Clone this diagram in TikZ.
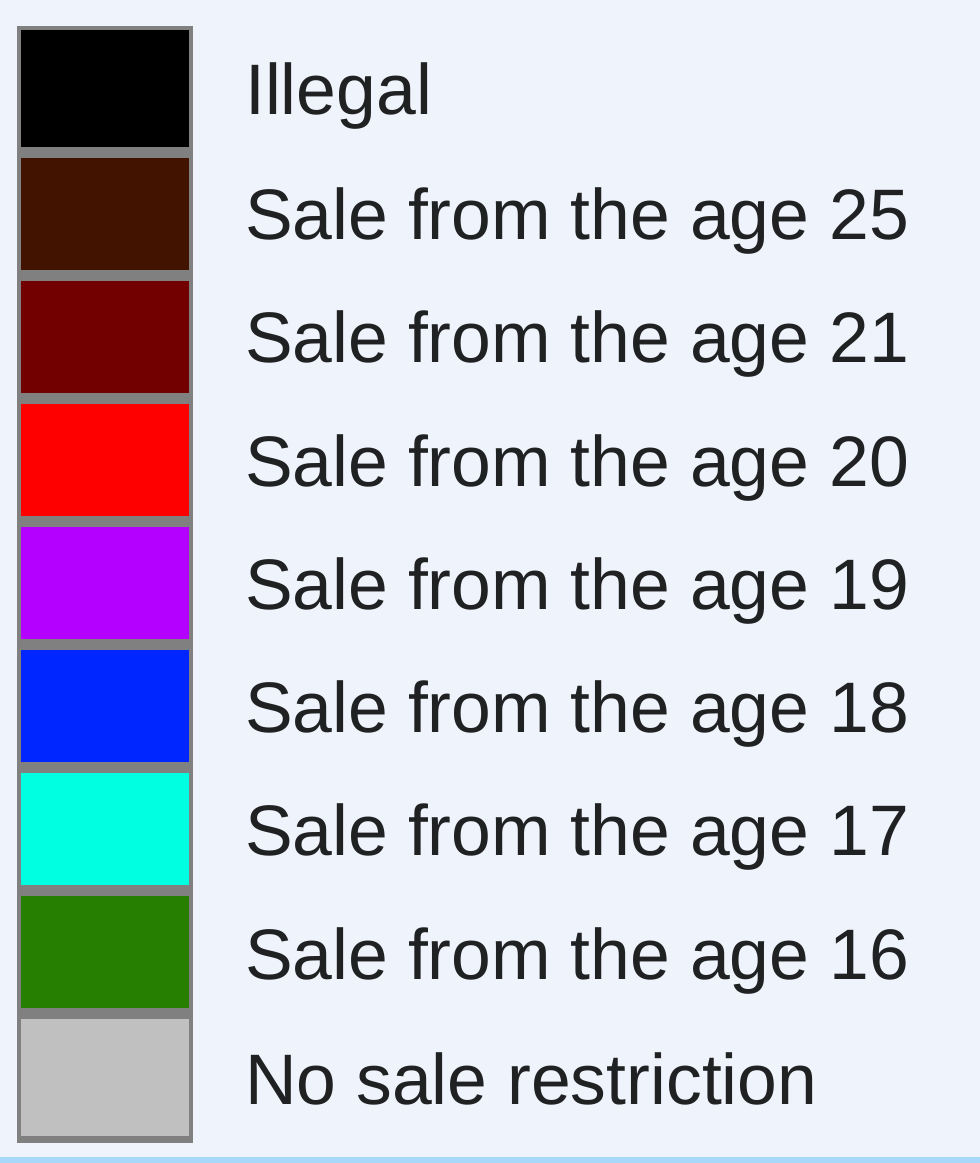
\documentclass[tikz,border=0pt]{standalone}
\usepackage{fontspec}
\setmainfont{Liberation Sans}
\definecolor{bg}{HTML}{EFF3FB}
\definecolor{frame}{HTML}{808080}
\definecolor{bottomline}{HTML}{A7D7F9}
\definecolor{txt}{HTML}{202122}
\definecolor{cA}{HTML}{000000}
\definecolor{cB}{HTML}{421400}
\definecolor{cC}{HTML}{730000}
\definecolor{cD}{HTML}{FF0000}
\definecolor{cE}{HTML}{B300FF}
\definecolor{cF}{HTML}{0026FF}
\definecolor{cG}{HTML}{00FFE1}
\definecolor{cH}{HTML}{267F00}
\definecolor{cI}{HTML}{C0C0C0}
\tikzset{
  cell/.style={rectangle, inner sep=0pt, minimum width=168pt, draw=none},
  lbl/.style={anchor=base west, inner sep=0pt, text=txt, font=\fontsize{71.5}{80}\selectfont}
}
\begin{document}
\begin{tikzpicture}[x=1pt,y=-1pt]
\fill[bg] (0,0) rectangle (980,1163);
\useasboundingbox (0,0) rectangle (980,1163);
\fill[bottomline] (0,1157) rectangle (980,1163);
\fill[frame] (17,26) rectangle (193,1143);
% cells
\node[cell, fill=cA, minimum height=117pt] (b1) at (105,88.5) {};
\node[cell, fill=cB, minimum height=112pt] (b2) at (105,214) {};
\node[cell, fill=cC, minimum height=112pt] (b3) at (105,337) {};
\node[cell, fill=cD, minimum height=112pt] (b4) at (105,460) {};
\node[cell, fill=cE, minimum height=112pt] (b5) at (105,583) {};
\node[cell, fill=cF, minimum height=112pt] (b6) at (105,706) {};
\node[cell, fill=cG, minimum height=112pt] (b7) at (105,829) {};
\node[cell, fill=cH, minimum height=112pt] (b8) at (105,952) {};
\node[cell, fill=cI, minimum height=117pt] (b9) at (105,1077.5) {};
% labels
\node[lbl] (t1) at (245,114) {Illegal};
\node[lbl] (t2) at (245,239) {Sale from the age 25};
\node[lbl] (t3) at (245,362) {Sale from the age 21};
\node[lbl] (t4) at (245,486) {Sale from the age 20};
\node[lbl] (t5) at (245,609) {Sale from the age 19};
\node[lbl] (t6) at (245,732) {Sale from the age 18};
\node[lbl] (t7) at (245,855) {Sale from the age 17};
\node[lbl] (t8) at (245,979) {Sale from the age 16};
\node[lbl] (t9) at (245,1104) {No sale restriction};
\end{tikzpicture}
\end{document}
